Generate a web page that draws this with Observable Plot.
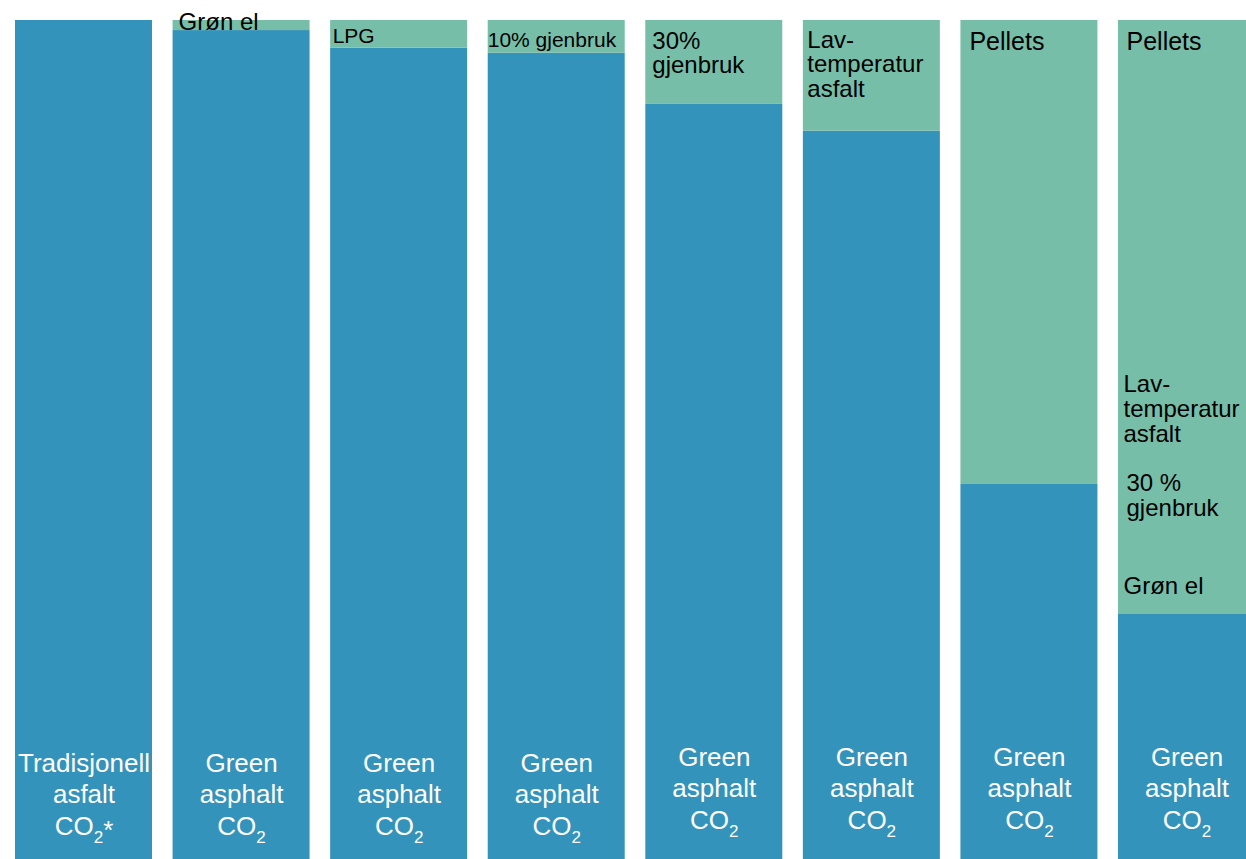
<!DOCTYPE html>
<html><head><meta charset="utf-8">
<script src="https://cdn.jsdelivr.net/npm/d3@7"></script>
<script src="https://cdn.jsdelivr.net/npm/@observablehq/plot@0.6"></script>
<style>html,body{margin:0;padding:0;background:#fff;overflow:hidden}</style>
</head><body><div id="chart"></div>
<script>
// Scenarios (one bar each)
const scenarios = ["Tradisjonell asfalt", "Grøn el", "LPG", "10% gjenbruk", "30% gjenbruk", "Lavtemperatur asfalt", "Pellets", "Alle tiltak"];
// Remaining CO2 share (% of traditional asphalt)
const co2Share = [100, 98.8, 96.7, 96.1, 90.0, 86.8, 44.7, 29.2];
// Labels inside the blue (remaining CO2) part
const baseLabels = ["Tradisjonell\nasfalt\nCO2*", "Green\nasphalt\nCO2", "Green\nasphalt\nCO2", "Green\nasphalt\nCO2",
  "Green\nasphalt\nCO2", "Green\nasphalt\nCO2", "Green\nasphalt\nCO2", "Green\nasphalt\nCO2"];
// Labels on the green (reduction) part
const reductionLabels = ["", "Grøn el", "LPG", "10% gjenbruk", "30%\ngjenbruk", "Lav-\ntemperatur\nasfalt", "Pellets", "Pellets"];
// Extra labels in the combined bar
const combinedLabels = ["Lav-\ntemperatur\nasfalt", "30 %\ngjenbruk", "Grøn el"];
const parts = ["CO2", "Reduksjon"];

const rows = scenarios.flatMap((s, i) => [
  {scenario: s, part: parts[0], value: co2Share[i]},
  {scenario: s, part: parts[1], value: 100 - co2Share[i]}
]);
const labelRows = scenarios.map((s, i) => ({scenario: s, i, base: baseLabels[i], red: reductionLabels[i]}));

const topLabel = (i, o) => Plot.text(labelRows.filter(d => d.i === i), {
  x: "scenario", text: "red", frameAnchor: "top", lineAnchor: "top", textAnchor: "start",
  fill: "black", lineHeight: 1.02, ...o
});
const extraLabel = (k, o) => Plot.text([{scenario: scenarios[7], t: combinedLabels[k]}], {
  x: "scenario", text: "t", frameAnchor: "top", lineAnchor: "top", textAnchor: "start",
  fill: "black", fontSize: 24, lineHeight: 1.04, ...o
});
const baseLabel = (filter, dy) => Plot.text(labelRows.filter(filter), {
  x: "scenario", text: "base", frameAnchor: "bottom", lineAnchor: "bottom", textAnchor: "middle",
  fill: "white", fontSize: 26, lineHeight: 1.2, dy
});

const chart = Plot.plot({
  width: 1246,
  height: 859,
  marginTop: 20, marginBottom: 0, marginLeft: 0, marginRight: 0,
  style: {fontFamily: "'Liberation Sans', Arial, sans-serif", background: "white", overflow: "hidden"},
  x: {type: "band", domain: scenarios, range: [15, 1255], paddingInner: 0.1306, paddingOuter: 0, round: false, axis: null},
  y: {domain: [0, 100], axis: null},
  color: {domain: parts, range: ["#3493ba", "#76bea8"]},
  marks: [
    Plot.barY(rows, {x: "scenario", y: "value", fill: "part", order: parts}),
    baseLabel(d => d.i < 4, -25),
    baseLabel(d => d.i >= 4, -31),
    topLabel(1, {fontSize: 24, dx: -63, dy: -8}),
    topLabel(2, {fontSize: 21, dx: -66.5, dy: 7}),
    topLabel(3, {fontSize: 21, dx: -69, dy: 11}),
    topLabel(4, {fontSize: 24, dx: -62, dy: 11}),
    topLabel(5, {fontSize: 24, dx: -64.5, dy: 10}),
    topLabel(6, {fontSize: 25, dx: -60, dy: 11}),
    topLabel(7, {fontSize: 25, dx: -60.5, dy: 11}),
    extraLabel(0, {dx: -63.5, dy: 354}),
    extraLabel(1, {dx: -60.5, dy: 453}),
    extraLabel(2, {dx: -63.5, dy: 556})
  ]
});

// Subscript "2" in CO2 (and the footnote asterisk)
d3.select(chart).selectAll("tspan").each(function() {
  const t = this.textContent;
  if (t.startsWith("CO2")) {
    const star = t.endsWith("*");
    const s = d3.select(this);
    s.text("CO");
    s.append("tspan").attr("font-size", 17).attr("dy", 8).text("2");
    if (star) s.append("tspan").attr("dy", -4).text("*");
  }
});

document.getElementById("chart").append(chart);
</script>
</body></html>
